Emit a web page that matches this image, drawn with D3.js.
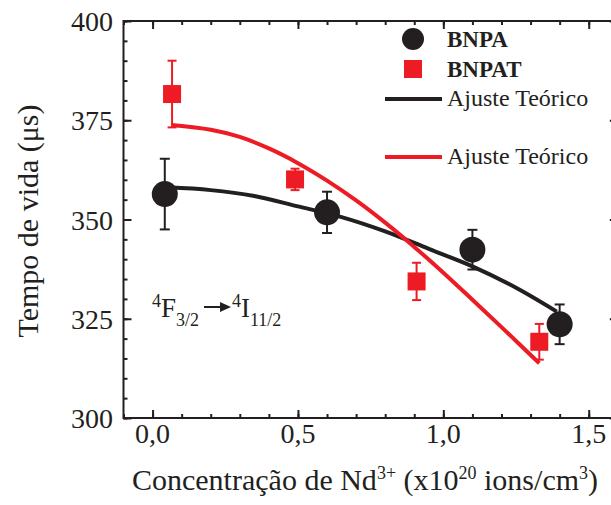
<!DOCTYPE html>
<html lang="pt">
<head>
<meta charset="utf-8">
<title>Tempo de vida</title>
<script src="https://d3js.org/d3.v7.min.js" charset="utf-8"></script>
<style>
body { margin: 0; background: #fff; }
</style>
</head>
<body>
<div id="vis-container"></div>
<script>
// measured points
var bnpaX   = [0.042, 0.60, 1.10, 1.40];
var bnpaY   = [356.4, 351.8, 342.4, 323.6];
var bnpaErr = [8.9, 5.2, 5.0, 5.0];

var bnpatX   = [0.067, 0.49, 0.908, 1.33];
var bnpatY   = [381.6, 360.1, 334.4, 319.2];
var bnpatErr = [8.4, 2.7, 4.7, 4.5];

// fitted curves
var fitBlackX = [0.05, 0.2, 0.35, 0.5, 0.65, 0.8, 0.95, 1.1, 1.25, 1.39];
var fitBlackY = [358.1, 357.4, 355.9, 353.3, 350.6, 347.0, 342.6, 338.2, 332.8, 326.8];
var fitRedX = [0.065, 0.2, 0.3, 0.4, 0.5, 0.6, 0.7, 0.8, 0.9, 1.0, 1.1, 1.2, 1.33];
var fitRedY = [373.8, 372.6, 370.8, 367.9, 364.2, 359.8, 354.8, 349.2, 343.1, 336.6, 329.8, 322.9, 313.8];

var xTicks = [0.0, 0.5, 1.0, 1.5];
var xTickLabels = ["0,0", "0,5", "1,0", "1,5"];
var yTicks = [300, 325, 350, 375, 400];

var legendLabels = ["BNPA", "BNPAT", "Ajuste Teórico", "Ajuste Teórico"];

var black = "#231f20", red = "#ed1c24";
var serif = "'Liberation Serif', 'Times New Roman', 'DejaVu Serif', serif";

var W = 611, H = 505;
var svg = d3.select("#vis-container").append("svg")
    .attr("width", W).attr("height", H);

var x = d3.scaleLinear().domain([-0.1, 1.6]).range([123.5, 617.8]);
var y = d3.scaleLinear().domain([300, 400]).range([418, 21]);

// axes: ticks inward, minor every 0.1 / 5
var xMinor = d3.range(-0.1, 1.61, 0.1).map(function(d) { return +d.toFixed(2); });
var yMinor = d3.range(300, 401, 5);

function styleTicks(g) {
    g.select(".domain").remove();
    g.selectAll("line").attr("stroke", black).attr("stroke-width", 2);
}
function drawX(ty, dir) {
    svg.append("g").attr("transform", "translate(0," + ty + ")")
        .call(d3.axisBottom(x).tickValues(xMinor).tickSize(4 * dir).tickFormat(""))
        .call(styleTicks);
    svg.append("g").attr("transform", "translate(0," + ty + ")")
        .call(d3.axisBottom(x).tickValues(xTicks).tickSize(8 * dir).tickFormat(""))
        .call(styleTicks);
}
function drawY(tx, dir) {
    svg.append("g").attr("transform", "translate(" + tx + ",0)")
        .call(d3.axisLeft(y).tickValues(yMinor).tickSize(4 * dir).tickFormat(""))
        .call(styleTicks);
    svg.append("g").attr("transform", "translate(" + tx + ",0)")
        .call(d3.axisLeft(y).tickValues(yTicks).tickSize(8 * dir).tickFormat(""))
        .call(styleTicks);
}
drawX(y(300), -1);
drawX(y(400), 1);
drawY(x(-0.1), -1);
drawY(x(1.6), 1);

// frame
svg.append("rect")
    .attr("x", x(-0.1)).attr("y", y(400))
    .attr("width", x(1.6) - x(-0.1)).attr("height", y(300) - y(400))
    .attr("fill", "none").attr("stroke", black).attr("stroke-width", 2);

// tick labels
svg.selectAll(".xl").data(xTicks).enter().append("text")
    .attr("x", function(d) { return x(d); }).attr("y", 443)
    .attr("text-anchor", "middle").style("font-size", "28px")
    .text(function(d, i) { return xTickLabels[i]; });
svg.selectAll(".yl").data(yTicks).enter().append("text")
    .attr("x", 113).attr("y", function(d) { return y(d) + 10; })
    .attr("text-anchor", "end").style("font-size", "28px")
    .text(function(d) { return d; });

// axis titles
var xt = svg.append("text").attr("x", 365).attr("y", 490)
    .attr("text-anchor", "middle").style("font-size", "30px");
xt.append("tspan").text("Concentração de Nd");
xt.append("tspan").attr("dy", -11).style("font-size", "18px").text("3+");
xt.append("tspan").attr("dy", 11).text(" (x10");
xt.append("tspan").attr("dy", -11).style("font-size", "18px").text("20");
xt.append("tspan").attr("dy", 11).text(" ions/cm");
xt.append("tspan").attr("dy", -11).style("font-size", "18px").text("3");
xt.append("tspan").attr("dy", 11).text(")");

svg.append("text").attr("transform", "translate(38,221) rotate(-90)")
    .attr("text-anchor", "middle").style("font-size", "30px")
    .text("Tempo de vida (μs)");

// fitted curves
var line = d3.line()
    .x(function(d) { return x(d[0]); })
    .y(function(d) { return y(d[1]); })
    .curve(d3.curveCatmullRom);
svg.append("path").datum(d3.zip(fitBlackX, fitBlackY))
    .attr("d", line).attr("fill", "none").attr("stroke", black).attr("stroke-width", 4);
svg.append("path").datum(d3.zip(fitRedX, fitRedY))
    .attr("d", line).attr("fill", "none").attr("stroke", red).attr("stroke-width", 4);

// error bars
function errBars(xs, ys, es, color, cap) {
    var g = svg.append("g").attr("stroke", color).attr("stroke-width", 2);
    xs.forEach(function(xv, i) {
        var cx = x(xv), t = y(ys[i] + es[i]), b = y(ys[i] - es[i]);
        g.append("line").attr("x1", cx).attr("x2", cx).attr("y1", t).attr("y2", b);
        g.append("line").attr("x1", cx - cap).attr("x2", cx + cap).attr("y1", t).attr("y2", t);
        g.append("line").attr("x1", cx - cap).attr("x2", cx + cap).attr("y1", b).attr("y2", b);
    });
}
errBars(bnpatX, bnpatY, bnpatErr, red, 4.5);
errBars(bnpaX, bnpaY, bnpaErr, black, 5);

svg.selectAll(".sq").data(d3.zip(bnpatX, bnpatY)).enter().append("rect")
    .attr("x", function(d) { return x(d[0]) - 9; })
    .attr("y", function(d) { return y(d[1]) - 9; })
    .attr("width", 18).attr("height", 18).attr("fill", red);
svg.selectAll(".dot").data(d3.zip(bnpaX, bnpaY)).enter().append("circle")
    .attr("cx", function(d) { return x(d[0]); })
    .attr("cy", function(d) { return y(d[1]); })
    .attr("r", 13).attr("fill", black);

// legend
var lg = svg.append("g");
lg.append("circle").attr("cx", 413).attr("cy", 39).attr("r", 11).attr("fill", black);
lg.append("rect").attr("x", 404).attr("y", 60).attr("width", 18).attr("height", 18).attr("fill", red);
lg.append("line").attr("x1", 385).attr("x2", 442).attr("y1", 99).attr("y2", 99).attr("stroke", black).attr("stroke-width", 4);
lg.append("line").attr("x1", 385).attr("x2", 442).attr("y1", 157).attr("y2", 157).attr("stroke", red).attr("stroke-width", 4);
var ly = [47, 77, 106, 164];
lg.selectAll("text").data(legendLabels).enter().append("text")
    .attr("x", 447).attr("y", function(d, i) { return ly[i]; })
    .style("font-size", function(d, i) { return i < 2 ? "23px" : "24px"; })
    .style("font-weight", function(d, i) { return i < 2 ? "bold" : "normal"; })
    .text(function(d) { return d; });

// transition label
var ann = svg.append("text").attr("x", 152).attr("y", 317).style("font-size", "27px");
ann.append("tspan").attr("dy", -10).style("font-size", "18px").text("4");
ann.append("tspan").attr("dy", 10).text("F");
ann.append("tspan").attr("dy", 9).style("font-size", "18px").text("3/2");
var ann2 = svg.append("text").attr("x", 232).attr("y", 317).style("font-size", "27px");
ann2.append("tspan").attr("dy", -10).style("font-size", "18px").text("4");
ann2.append("tspan").attr("dy", 10).text("I");
ann2.append("tspan").attr("dy", 9).style("font-size", "18px").text("11/2");
svg.append("line").attr("x1", 204).attr("x2", 222).attr("y1", 307).attr("y2", 307)
    .attr("stroke", black).attr("stroke-width", 2);
svg.append("path").attr("d", "M220,302 L231,307 L220,312 Z").attr("fill", black);

svg.selectAll("text").style("font-family", serif).style("fill", black);
</script>
</body>
</html>
